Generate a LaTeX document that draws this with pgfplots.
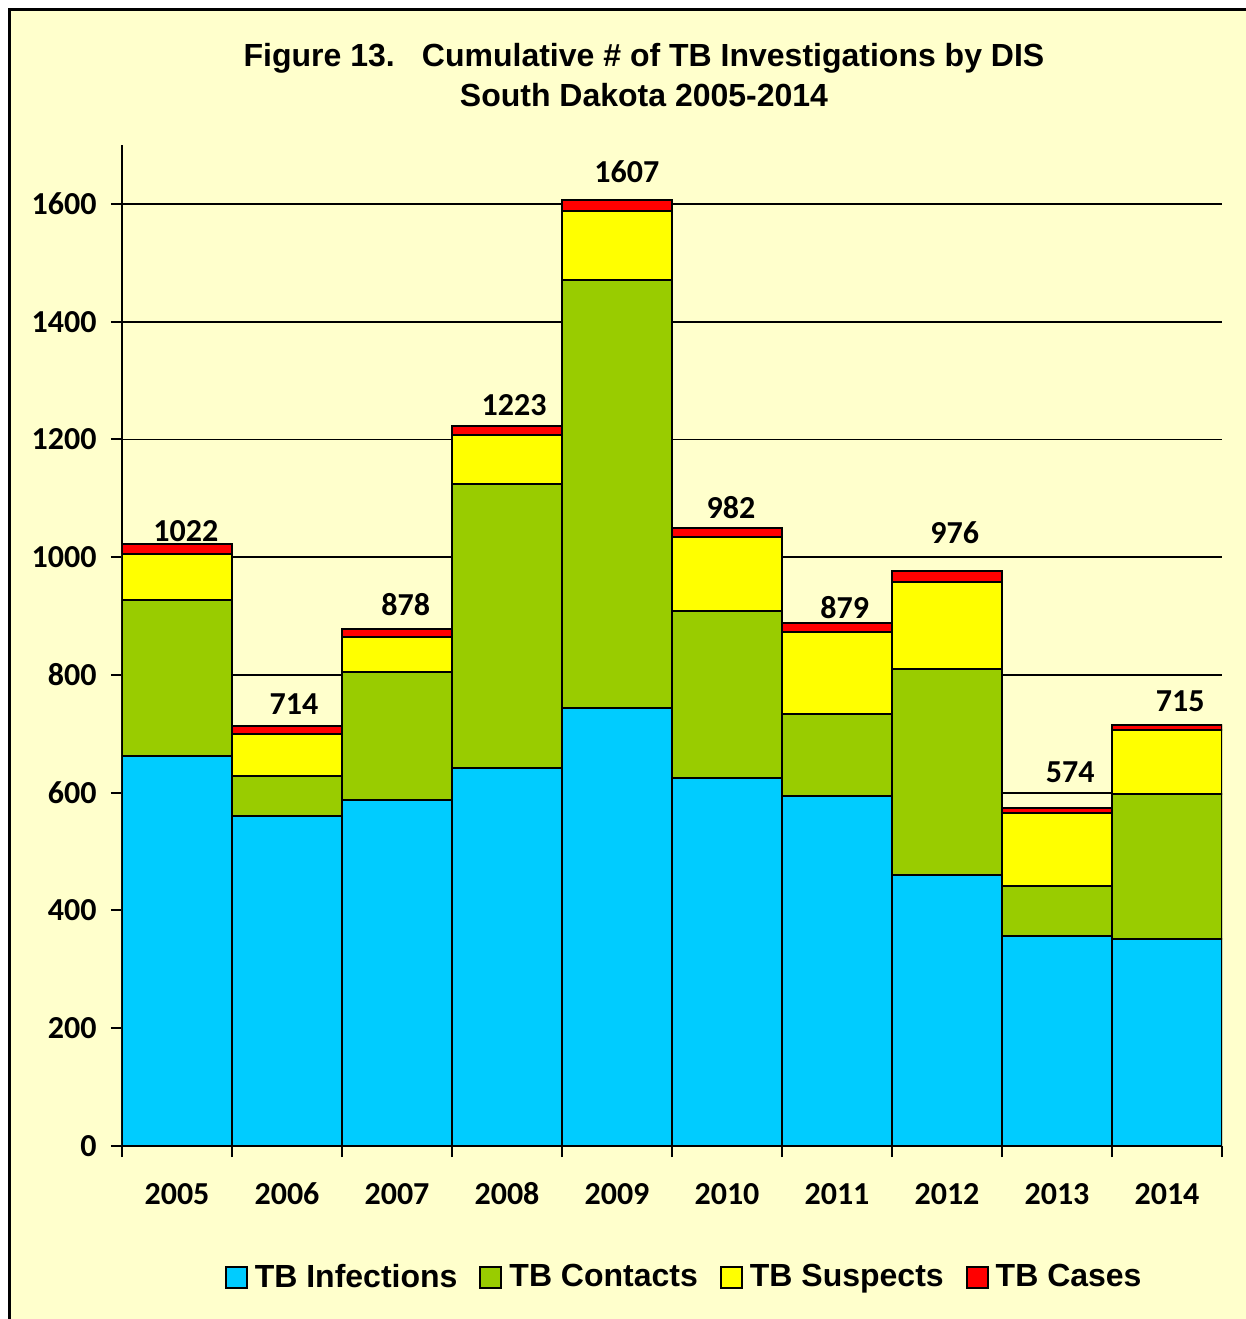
\documentclass[border=0pt]{standalone}
\usepackage{pgfplots}
\pgfplotsset{compat=1.18}
\usepackage{fontspec}
\setmainfont{Liberation Sans}
\newfontfamily\calib{Carlito}
\definecolor{bg}{HTML}{FFFFCC}
\definecolor{cinf}{HTML}{00CCFF}
\definecolor{ccon}{HTML}{99CC00}
\definecolor{csus}{HTML}{FFFF00}
\definecolor{ccas}{HTML}{FF0000}
\tikzset{dlab/.style={font=\calib\bfseries\fontsize{16}{18}\selectfont}}
\pgfplotsset{sq legend/.style={legend image code/.code={\draw[##1,draw=black,line width=1pt] (0pt,-5.25pt) rectangle (10.5pt,5.25pt);}}}
\begin{document}
\begin{tikzpicture}
\useasboundingbox (0,0) rectangle (623pt,659.5pt);
\fill[white] (0,0) rectangle (623pt,659.5pt);
\fill[bg] (4.6pt,0) rectangle (623pt,654.75pt);
\draw[line width=1.3pt] (4.6pt,0) -- (4.6pt,654.75pt) -- (623pt,654.75pt);
\node[font=\bfseries\fontsize{16}{20}\selectfont, align=center] at (322pt,622pt)
  {Figure 13.\hspace{0.85em}Cumulative \# of TB Investigations by DIS\\South Dakota 2005-2014};
\begin{axis}[
  at={(61pt,86.5pt)}, anchor=south west, scale only axis,
  width=550pt, height=500.5pt,
  ybar stacked, bar width=55pt,
  xmin=-0.5, xmax=9.5, ymin=0, ymax=1700,
  axis x line*=bottom, axis y line*=left,
  axis line style={line width=1pt},
  xtick={-0.5,0.5,...,9.5},
  x tick label as interval,
  xticklabels={2005,2006,2007,2008,2009,2010,2011,2012,2013,2014},
  ytick={0,200,...,1600},
  ymajorgrids, grid style={black, line width=0.9pt},
  tick align=outside,
  major tick length=5.5pt,
  xtick style={black, line width=1pt},
  ytick style={black, line width=1pt},
  /pgf/number format/assume math mode=true,
  /pgf/number format/1000 sep={},
  tick label style={font=\calib\bfseries\fontsize{16}{18}\selectfont},
  xticklabel style={anchor=base, yshift=-23.5pt},
  yticklabel style={anchor=east, inner sep=0pt, xshift=-7pt},
  legend columns=4,
  legend style={draw=none, fill=none, at={(0.512,-0.131)}, anchor=center,
    font=\bfseries\fontsize{16}{18}\selectfont,
    /tikz/every odd column/.append style={column sep=1.5pt},
    /tikz/every even column/.append style={column sep=9pt}},
  sq legend,
]
\addplot[fill=cinf, draw=black, line width=1pt] coordinates {(0,662) (1,561) (2,588) (3,642) (4,744) (5,625) (6,595) (7,460) (8,357) (9,352)};
\addplot[fill=ccon, draw=black, line width=1pt] coordinates {(0,265) (1,67) (2,217) (3,482) (4,727) (5,284) (6,139) (7,350) (8,85) (9,246)};
\addplot[fill=csus, draw=black, line width=1pt] coordinates {(0,78) (1,72) (2,60) (3,84) (4,117) (5,125) (6,139) (7,148) (8,124) (9,109)};
\addplot[fill=ccas, draw=black, line width=1pt] coordinates {(0,17) (1,14) (2,13) (3,15) (4,19) (5,16) (6,15) (7,19) (8,8) (9,8)};
\legend{TB Infections, TB Contacts, TB Suspects, TB Cases}
\node[dlab] at (axis cs:0.08,1045) {1022};
\node[dlab] at (axis cs:1.064,751) {714};
\node[dlab] at (axis cs:2.08,920) {878};
\node[dlab] at (axis cs:3.064,1258) {1223};
\node[dlab] at (axis cs:4.09,1654) {1607};
\node[dlab] at (axis cs:5.036,1084) {982};
\node[dlab] at (axis cs:6.07,915) {879};
\node[dlab] at (axis cs:7.07,1041) {976};
\node[dlab] at (axis cs:8.12,635) {574};
\node[dlab] at (axis cs:9.12,756) {715};
\end{axis}
\end{tikzpicture}
\end{document}
